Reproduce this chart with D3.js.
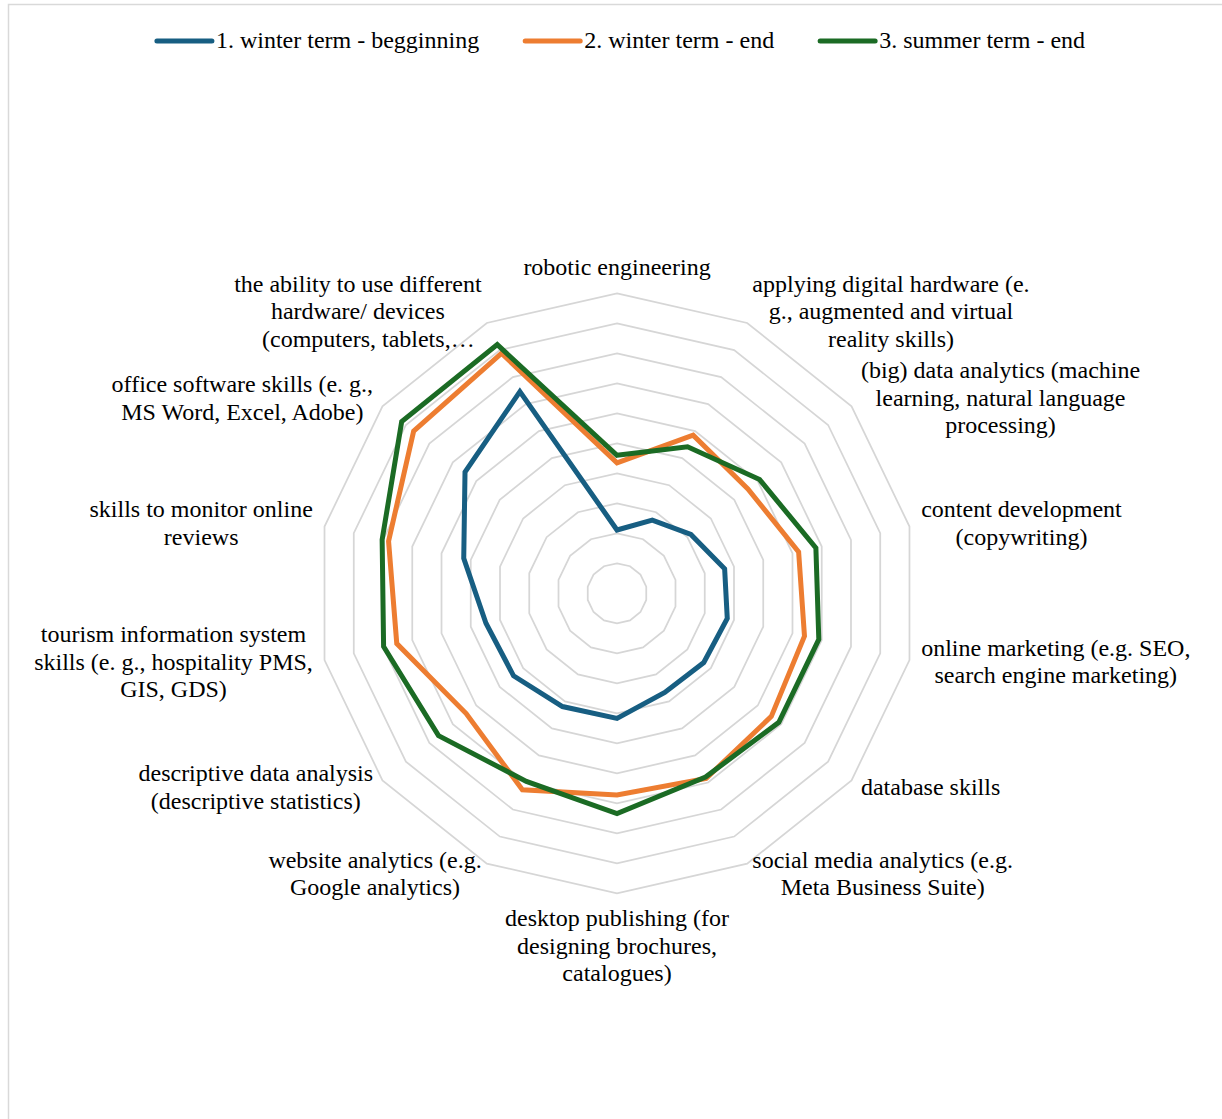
<!DOCTYPE html>
<html><head><meta charset="utf-8">
<script src="https://cdn.jsdelivr.net/npm/d3@7"></script>
<style>
body{margin:0;background:#fff}
svg{display:block}
text{font-family:"Liberation Serif","Times New Roman",serif;fill:#000}
</style>
</head><body>
<svg id="c" width="1222" height="1119"></svg>
<script>
// ---- data ----
const categories = [
  ["robotic engineering"],
  ["applying digital hardware (e.", "g., augmented and virtual", "reality skills)"],
  ["(big) data analytics (machine", "learning, natural language", "processing)"],
  ["content development", "(copywriting)"],
  ["online marketing (e.g. SEO,", "search engine marketing)"],
  ["database skills"],
  ["social media analytics (e.g.", "Meta Business Suite)"],
  ["desktop publishing (for", "designing brochures,", "catalogues)"],
  ["website analytics (e.g.", "Google analytics)"],
  ["descriptive data analysis", "(descriptive statistics)"],
  ["tourism information system", "skills (e. g., hospitality PMS,", "GIS, GDS)"],
  ["skills to monitor online", "reviews"],
  ["office software skills (e. g.,", "MS Word, Excel, Adobe)"],
  ["the ability to use different", "hardware/ devices", "(computers, tablets,…"]
];
const seriesNames = ["1. winter term - begginning", "2. winter term - end", "3. summer term - end"];
const winterBeginning = [2.11, 2.71, 3.15, 3.68, 3.77, 3.70, 3.67, 4.17, 4.19, 4.41, 4.48, 5.24, 6.48, 7.46];
const winterEnd       = [4.35, 5.85, 5.58, 6.21, 6.41, 6.58, 6.85, 6.72, 7.27, 6.43, 7.53, 7.81, 8.67, 8.88];
const summerEnd       = [4.60, 5.42, 6.08, 6.80, 6.90, 6.90, 6.80, 7.34, 6.96, 7.61, 7.98, 8.03, 9.18, 9.20];
const ringTicks = [1, 2, 3, 4, 5, 6, 7, 8, 9, 10];
const seriesColors = ["#175e82", "#ed7d31", "#1b6b24"];

// ---- layout ----
const W = 1222, H = 1119;
const cx = 617, cy = 593.3, R = 300;
const fontSize = 24, lineH = 27.5, baseOff = 7;
const svg = d3.select("#c");

svg.append("rect").attr("x", 8.5).attr("y", 4.5).attr("width", W + 20).attr("height", H + 20)
  .attr("fill", "#fff").attr("stroke", "#d9d9d9").attr("stroke-width", 1.5);

const n = categories.length;
const angle = d3.scaleLinear().domain([0, n]).range([0, 2 * Math.PI]);
const rScale = d3.scaleLinear().domain([0, 10]).range([0, R]);
const g = svg.append("g").attr("transform", `translate(${cx},${cy})`);

const radial = d3.lineRadial()
  .angle((d, i) => angle(i))
  .radius(d => rScale(d))
  .curve(d3.curveLinearClosed);

// rings
g.append("g").selectAll("path").data(ringTicks).join("path")
  .attr("d", t => radial(d3.range(n).map(() => t)))
  .attr("fill", "none").attr("stroke", "#d6d6d6").attr("stroke-width", 1.75);

// series
const series = [winterBeginning, winterEnd, summerEnd];
g.append("g").selectAll("path").data(series).join("path")
  .attr("d", d => radial(d))
  .attr("fill", "none")
  .attr("stroke", (d, i) => seriesColors[i])
  .attr("stroke-width", 5)
  .attr("stroke-linejoin", "miter");

// category labels
const labG = g.append("g").attr("font-size", fontSize);
categories.forEach((lines, i) => {
  const a = angle(i);
  const s = Math.sin(a), c = Math.cos(a);
  const pr = R + 12;
  const px = pr * s, py = -pr * c;
  const grp = labG.append("g");
  const texts = lines.map(l => grp.append("text").attr("text-anchor", "middle").text(l));
  const w = d3.max(texts, t => t.node().getComputedTextLength());
  const h = lines.length * lineH;
  let bx, top;
  if (Math.abs(s) < 0.01) {
    bx = px;
    top = c > 0 ? py - h : py;
  } else {
    bx = s > 0 ? px + w / 2 : px - w / 2;
    top = py - h / 2;
  }
  texts.forEach((t, k) => {
    const truncated = lines[k].endsWith("…");
    const tw = t.node().getComputedTextLength();
    // truncated lines sit toward the outer edge of the label box
    const x = truncated ? (s < 0 ? bx + w / 2 - 7 - tw / 2 : bx - w / 2 + 7 + tw / 2) : bx;
    t.attr("x", x).attr("y", top + lineH * (k + 0.5) + baseOff);
  });
});

// legend
const legG = svg.append("g").attr("font-size", fontSize);
const lineLen = 55, txtGap = 4, itemGap = 46, legY = 41;
const items = seriesNames.map((name, i) => {
  const it = legG.append("g");
  it.append("line").attr("x1", 0).attr("x2", lineLen).attr("y1", 0).attr("y2", 0)
    .attr("stroke", seriesColors[i]).attr("stroke-width", 5).attr("stroke-linecap", "round");
  const t = it.append("text").attr("x", lineLen + txtGap).attr("y", baseOff).text(name);
  return {it, w: lineLen + txtGap + t.node().getComputedTextLength()};
});
const total = d3.sum(items, d => d.w) + itemGap * (items.length - 1);
let x0 = 621 - total / 2;
items.forEach(d => {
  d.it.attr("transform", `translate(${x0},${legY})`);
  x0 += d.w + itemGap;
});
</script>
</body></html>
